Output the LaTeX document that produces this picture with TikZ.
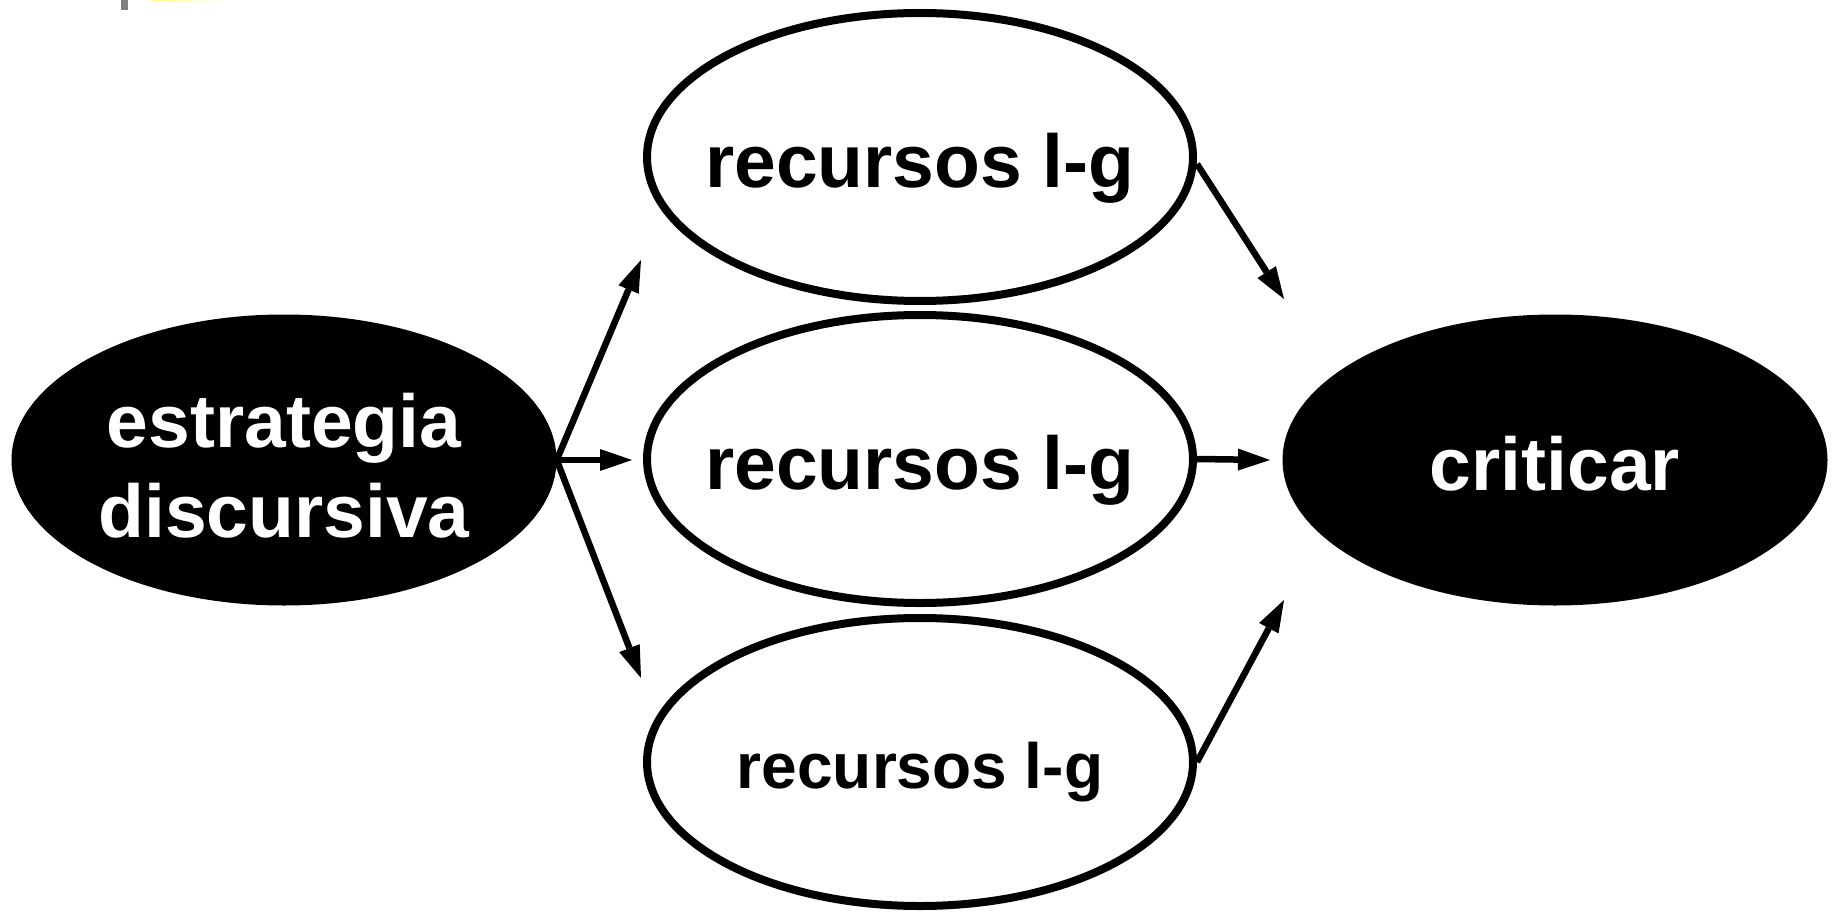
\documentclass[tikz,border=0pt]{standalone}
\usepackage{fontspec}
\setmainfont{Liberation Sans}
\usepackage{tikz}
\usetikzlibrary{positioning}
\usetikzlibrary{shapes.geometric}
\usetikzlibrary{arrows.meta}
\usepackage{xcolor}
\newcommand{\lbl}[2]{\makebox[0pt]{\raisebox{#1}[0pt][0pt]{#2}}}
\newcommand{\midline}[1]{\hbox to 0pt{\hss #1\hss}}
\begin{document}
\begin{tikzpicture}[x=1pt, y=-1pt,
	bubble/.style={ellipse, draw=black, line width=8pt, fill=white, inner sep=0pt, minimum width=546pt, minimum height=288pt, font=\fontsize{75}{90}\selectfont\bfseries},
	dark/.style={ellipse, fill=black, text=white, inner sep=0pt, minimum width=545pt, minimum height=291pt, font=\fontsize{75}{90}\selectfont\bfseries},
	arr/.style={line width=6.5pt, -{Triangle[length=32pt, width=22pt, line width=0pt]}}]
				    		\useasboundingbox (0, 0) rectangle (1839, 912);
				    		\fill[gray] (121, 0) rectangle (128, 10);
				    		\shade[left color=yellow!45, right color=white] (152, 0) rectangle (225, 1.5);
				    		\node[dark] (strat) at (284, 460) {\lbl{13pt}{\vtop{\midline{estrategia}\midline{discursiva}}}};
				    		\node[dark] (crit) at (1555, 460) {\lbl{-30pt}{criticar}};
				    		\node[bubble] (rtop) at (920, 157) {\lbl{-31pt}{recursos l-g}};
				    		\node[bubble] (rmid) at (920, 459) {\lbl{-30pt}{recursos l-g}};
				    		\node[bubble, font=\fontsize{64}{77}\selectfont\bfseries] (rbot) at (920, 762) {\lbl{-26pt}{recursos l-g}};
				    		\coordinate (ta) at (641, 260);
				    		\coordinate (ma) at (632, 460);
				    		\coordinate (ba) at (641, 678);
				    		\coordinate (tb) at (1284, 299);
				    		\coordinate (mb) at (1270, 460);
				    		\coordinate (bb) at (1284, 600);
				    		\draw[arr] (strat.east) -- (ta);
				    		\draw[arr] (strat.east) -- (ma);
				    		\draw[arr] (strat.east) -- (ba);
				    		\draw[arr] ([yshift=-7pt]rtop.east) -- (tb);
				    		\draw[arr] (rmid.east) -- (mb);
				    		\draw[arr] (rbot.east) -- (bb);
				    	\end{tikzpicture}
\end{document}
